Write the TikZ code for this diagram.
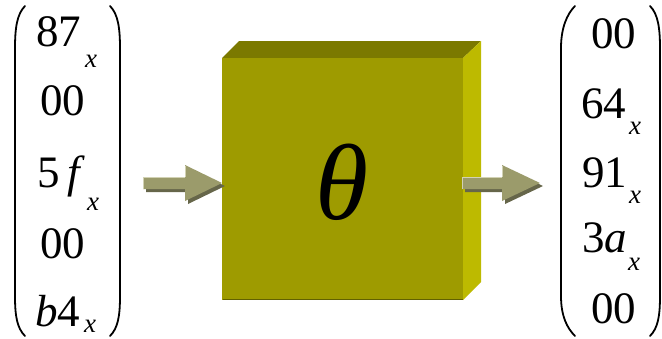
\documentclass[tikz,border=0pt]{standalone}
\usepackage{fontspec}
\setmainfont{Liberation Serif}
\definecolor{boxfront}{HTML}{9E9B00}
\definecolor{boxtop}{HTML}{7B7900}
\definecolor{boxside}{HTML}{BDBA00}
\definecolor{arrowfill}{HTML}{9B9B6B}
\definecolor{arrowshadow}{HTML}{66664A}
\definecolor{arrowlight}{HTML}{D2D2B4}
\tikzset{
  digits/.style={anchor=base west, inner sep=0pt, font=\fontsize{45}{45}\selectfont},
  subx/.style={anchor=base west, inner sep=0pt, font=\fontsize{27}{27}\selectfont\itshape},
  paren/.style={line width=1.8pt, line cap=round},
  blockarrow/.style={fill=arrowfill, draw=none},
  arrowshade/.style={fill=arrowshadow, draw=none},
}
\begin{document}
\begin{tikzpicture}[x=1pt,y=-1pt]
\useasboundingbox (0,0) rectangle (662,338);
% ---- left vector ----
\draw[paren] (25,6) .. controls (17,14) and (15,28) .. (15,48) -- (15,296) .. controls (15,316) and (17,328) .. (25,336);
\draw[paren] (110,6) .. controls (118,14) and (120,28) .. (120,48) -- (120,296) .. controls (120,316) and (118,328) .. (110,336);
\node[digits] (l1) at (36,46) {87};
\node[subx] (l1x) at (85,67) {x};
\node[digits] (l2) at (40,115) {00};
\node[digits] (l3) at (37,187) {5\,\textit{f}};
\node[subx] (l3x) at (87,210) {x};
\node[digits] (l4) at (40,258) {00};
\node[digits] (l5) at (35,326) {\textit{b}4};
\node[subx] (l5x) at (84,332) {x};
% ---- right vector ----
\draw[paren] (575,6) .. controls (567,14) and (561,28) .. (561,48) -- (561,296) .. controls (561,316) and (567,328) .. (575,336);
\draw[paren] (650,6) .. controls (658,14) and (660,28) .. (660,48) -- (660,296) .. controls (660,316) and (658,328) .. (650,336);
\node[digits] (r1) at (591,48) {00};
\node[digits] (r2) at (581,118) {64};
\node[subx] (r2x) at (629,134) {x};
\node[digits] (r3) at (582,187) {91};
\node[subx] (r3x) at (629,203) {x};
\node[digits] (r4) at (582,252) {3\textit{a}};
\node[subx] (r4x) at (628,270) {x};
\node[digits] (r5) at (591,323) {00};
% ---- 3D block ----
\fill[boxtop] (222,58) -- (239,41) -- (481,41) -- (463,58) -- cycle;
\fill[boxside] (463,58) -- (481,41) -- (481,282) -- (463,300) -- cycle;
\fill[boxfront] (222,58) rectangle (463,300);
\draw[boxtop!80!black, line width=1pt] (222.5,299.5) -- (463,299.5);
\node[inner sep=0pt, font=\fontsize{108}{108}\selectfont\itshape] (theta) at (342,182) {θ};
% ---- left arrow ----
\fill[arrowshade] (146,180) -- (188,180) -- (188,168) -- (225,186) -- (188,204) -- (188,192) -- (146,192) -- cycle;
\fill[blockarrow] (143,177) -- (185,177) -- (185,165) -- (222,183) -- (185,201) -- (185,189) -- (143,189) -- cycle;
\draw[arrowlight, line width=1.2pt] (143.6,188.5) -- (143.6,177.6) -- (185,177.6);
\draw[arrowlight, line width=1.2pt] (185.6,176.5) -- (185.6,166);
% ---- right arrow ----
\fill[arrowshade] (465,180) -- (505,180) -- (505,168) -- (543,186) -- (505,204) -- (505,192) -- (465,192) -- cycle;
\fill[blockarrow] (462,177) -- (502,177) -- (502,165) -- (540,183) -- (502,201) -- (502,189) -- (462,189) -- cycle;
\draw[arrowlight, line width=1.2pt] (462.6,188.5) -- (462.6,177.6) -- (502,177.6);
\draw[arrowlight, line width=1.2pt] (502.6,176.5) -- (502.6,166);
\end{tikzpicture}
\end{document}
